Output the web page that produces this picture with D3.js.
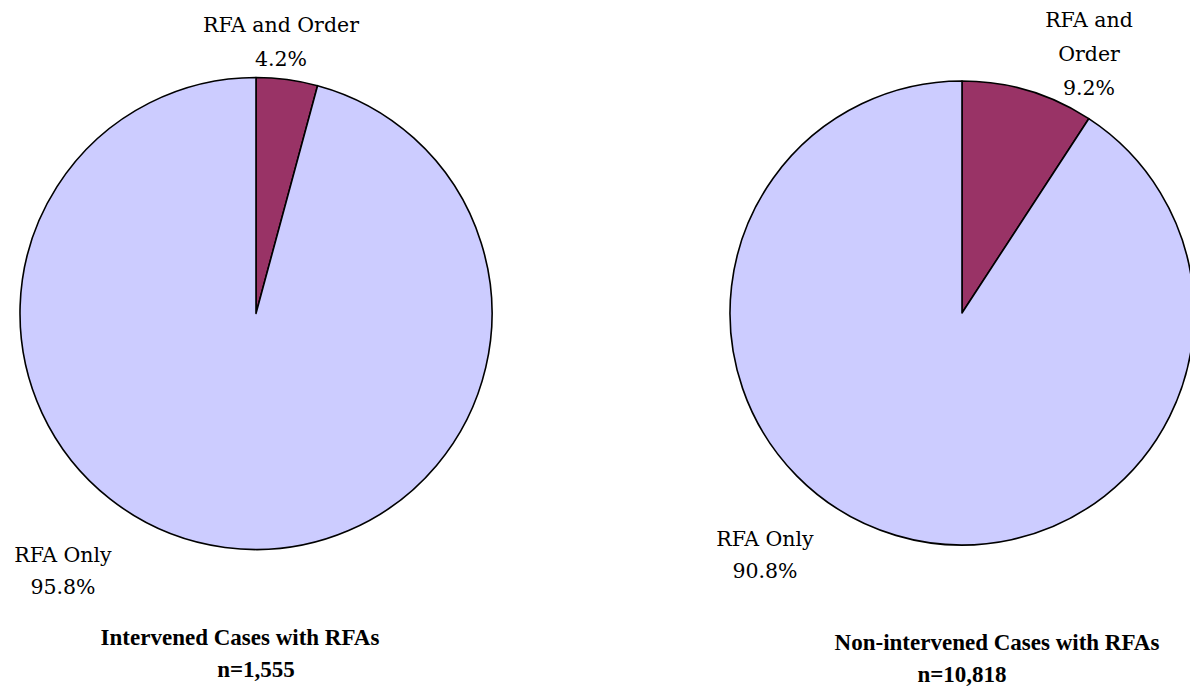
<!DOCTYPE html>
<html>
<head>
<meta charset="utf-8">
<script src="https://cdn.jsdelivr.net/npm/d3@7"></script>
<style>
  html, body { margin: 0; padding: 0; background: #fff; }
  svg { display: block; }
</style>
</head>
<body>
<svg id="chart" width="1190" height="687"></svg>
<script>
// Share of cases with RFAs by outcome, for two groups
const categories = ["RFA and Order", "RFA Only"];
const intervenedValues = [4.2, 95.8];
const nonIntervenedValues = [9.2, 90.8];
const chartTitles = ["Intervened Cases with RFAs", "Non-intervened Cases with RFAs"];
const sampleSizes = ["n=1,555", "n=10,818"];

const colors = d3.scaleOrdinal().domain(categories).range(["#993366", "#CCCCFF"]);
const serifBold = "'Liberation Serif', 'Times New Roman', serif";
const serifRegular = "'DejaVu Serif', serif";

const svg = d3.select("#chart");

// Layout of each pie and its labels
const panels = [
  {
    values: intervenedValues, title: chartTitles[0], n: sampleSizes[0],
    cx: 256, cy: 313.5, r: 236,
    topLabel: { x: 281, y: 32, lines: ["RFA and Order"] },
    bottomLabel: { x: 63, y: 562 },
    titlePos: { x: 240, y: 645 }
  },
  {
    values: nonIntervenedValues, title: chartTitles[1], n: sampleSizes[1],
    cx: 962, cy: 313, r: 232,
    topLabel: { x: 1089, y: 27, lines: ["RFA and", "Order"] },
    bottomLabel: { x: 765, y: 546 },
    titlePos: { x: 997, y: 650 }
  }
];

const pie = d3.pie().sort(null).value(d => d.value);
const lineGap = 34;
const labelSize = 20.5;
const titleSize = 23;

panels.forEach(p => {
  const data = categories.map((c, i) => ({ category: c, value: p.values[i] }));
  const arcs = pie(data);
  const arc = d3.arc().innerRadius(0).outerRadius(p.r);

  const g = svg.append("g").attr("transform", `translate(${p.cx},${p.cy})`);
  g.selectAll("path")
    .data(arcs)
    .join("path")
    .attr("d", arc)
    .attr("fill", d => colors(d.data.category))
    .attr("stroke", "#000")
    .attr("stroke-width", 1.6)
    .attr("stroke-linejoin", "round");

  // Label for the small slice, above the pie
  const topLines = p.topLabel.lines.concat([d3.format(".1f")(data[0].value) + "%"]);
  topLines.forEach((t, i) => {
    svg.append("text")
      .attr("x", p.topLabel.x)
      .attr("y", p.topLabel.y + i * lineGap)
      .attr("text-anchor", "middle")
      .attr("font-family", serifRegular)
      .attr("font-size", labelSize)
      .attr("fill", "#000")
      .text(t);
  });

  // Label for the large slice, lower left
  [data[1].category, d3.format(".1f")(data[1].value) + "%"].forEach((t, i) => {
    svg.append("text")
      .attr("x", p.bottomLabel.x)
      .attr("y", p.bottomLabel.y + i * (lineGap - 2))
      .attr("text-anchor", "middle")
      .attr("font-family", serifRegular)
      .attr("font-size", labelSize)
      .attr("fill", "#000")
      .text(t);
  });

  // Chart title and sample size
  svg.append("text")
    .attr("x", p.titlePos.x).attr("y", p.titlePos.y)
    .attr("text-anchor", "middle")
    .attr("font-family", serifBold)
    .attr("font-size", titleSize)
    .attr("font-weight", "bold")
    .attr("fill", "#000")
    .text(p.title);
  svg.append("text")
    .attr("x", p.cx).attr("y", p.titlePos.y + 32)
    .attr("text-anchor", "middle")
    .attr("font-family", serifBold)
    .attr("font-size", titleSize)
    .attr("font-weight", "bold")
    .attr("fill", "#000")
    .text(p.n);
});
</script>
</body>
</html>
